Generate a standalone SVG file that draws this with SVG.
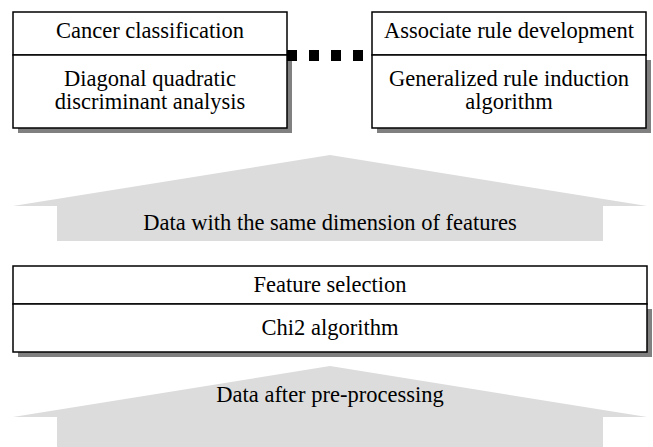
<svg xmlns="http://www.w3.org/2000/svg" width="653" height="447" viewBox="0 0 653 447">
<style>
.box{fill:#ffffff;stroke:#000000;stroke-width:1.5}
.shadow{fill:#808080}
.arrow{fill:#dcdcdc}
text{font-family:"Liberation Serif","Times New Roman",serif;font-size:22.5px;fill:#000000;text-anchor:middle}
.dots{stroke:#000000;stroke-width:11;stroke-dasharray:10 12;fill:none}
</style>
<rect width="653" height="447" fill="#ffffff"/>
<g id="arrow-features">
<polygon class="arrow" points="13,206 330,155 647,206 603,206 603,241 57,241 57,206"/>
<text x="330" y="230">Data with the same dimension of features</text>
</g>
<g id="arrow-preprocessing">
<polygon class="arrow" points="13,417 330,366 647,417 603,417 603,447 57,447 57,417"/>
<text x="330" y="402">Data after pre-processing</text>
</g>
<g id="cancer-classification">
<rect class="shadow" x="18" y="60" width="274" height="73"/>
<rect class="box" x="13" y="12" width="274" height="43"/>
<rect class="box" x="13" y="55" width="274" height="73"/>
<text x="150" y="38">Cancer classification</text>
<text x="150" y="86">Diagonal quadratic</text>
<text x="150" y="109">discriminant analysis</text>
</g>
<g id="associate-rule">
<rect class="shadow" x="377" y="60" width="274" height="73"/>
<rect class="box" x="372" y="12" width="274" height="43"/>
<rect class="box" x="372" y="55" width="274" height="73"/>
<text x="509" y="38">Associate rule development</text>
<text x="509" y="86">Generalized rule induction</text>
<text x="509" y="109">algorithm</text>
</g>
<g id="feature-selection">
<rect class="shadow" x="18" y="309" width="634" height="48"/>
<rect class="box" x="13" y="266" width="634" height="38"/>
<rect class="box" x="13" y="304" width="634" height="48"/>
<text x="330" y="292">Feature selection</text>
<text x="330" y="335">Chi2 algorithm</text>
</g>
<g id="connectors">
<line class="dots" x1="287" y1="55.5" x2="364" y2="55.5"/>
</g>
</svg>
